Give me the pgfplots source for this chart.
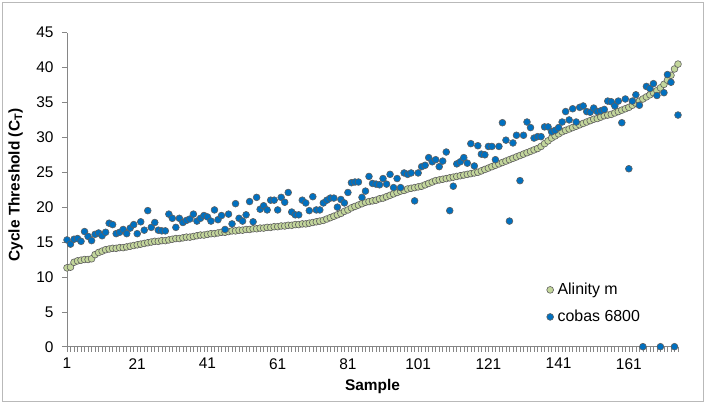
\documentclass[border=0pt]{standalone}
\usepackage{fontspec}
\setmainfont{Liberation Sans}
\usepackage{pgfplots}
\usepackage{pgfplotstable}
\pgfplotsset{compat=1.18}
\definecolor{alingreen}{RGB}{195,214,155}
\definecolor{cobasblue}{RGB}{0,112,192}
\definecolor{axisgray}{RGB}{134,134,134}
\definecolor{edgegray}{RGB}{95,95,95}

% sample, Alinity m, cobas 6800
\pgfplotstableread{
s a c
1 11.3 15.3
2 11.4 14.7
3 12.1 15.4
4 12.3 15.5
5 12.4 15.1
6 12.5 16.5
7 12.5 15.8
8 12.6 15.2
9 13.2 16.1
10 13.5 16.3
11 13.7 15.9
12 13.9 16.4
13 14.0 17.7
14 14.1 17.5
15 14.1 16.2
16 14.2 16.4
17 14.2 16.8
18 14.3 16.2
19 14.4 17.0
20 14.5 17.5
21 14.6 16.2
22 14.7 17.9
23 14.8 16.7
24 14.9 19.5
25 15.0 17.1
26 15.1 17.8
27 15.1 16.7
28 15.2 16.6
29 15.2 16.6
30 15.3 19.0
31 15.4 18.4
32 15.5 17.1
33 15.5 18.4
34 15.6 17.8
35 15.7 18.1
36 15.7 18.3
37 15.8 19.0
38 15.9 18.0
39 16.0 18.4
40 16.0 18.8
41 16.1 18.6
42 16.2 18.0
43 16.2 19.6
44 16.3 18.2
45 16.4 18.8
46 16.4 16.8
47 16.5 19.0
48 16.6 17.6
49 16.6 20.5
50 16.7 18.4
51 16.7 18.0
52 16.8 18.9
53 16.8 20.8
54 16.9 17.9
55 16.9 21.4
56 17.0 19.7
57 17.0 20.2
58 17.1 19.6
59 17.1 21.0
60 17.2 21.0
61 17.2 19.6
62 17.3 21.4
63 17.3 20.7
64 17.4 22.1
65 17.4 19.3
66 17.5 18.9
67 17.5 18.9
68 17.6 21.0
69 17.6 20.6
70 17.7 19.5
71 17.8 21.5
72 17.9 19.6
73 18.0 19.6
74 18.1 20.6
75 18.3 21.0
76 18.5 21.3
77 18.7 21.3
78 18.9 20.0
79 19.1 21.1
80 19.4 20.6
81 19.6 22.1
82 19.9 23.5
83 20.1 23.6
84 20.3 23.6
85 20.5 21.4
86 20.7 22.3
87 20.8 24.4
88 20.9 23.4
89 21.0 23.3
90 21.2 23.2
91 21.3 24.1
92 21.5 23.3
93 21.7 24.7
94 21.9 22.8
95 22.1 24.1
96 22.3 22.8
97 22.4 24.9
98 22.6 24.7
99 22.7 24.9
100 22.8 20.9
101 22.9 24.9
102 23.0 25.8
103 23.2 26.0
104 23.4 27.1
105 23.6 26.5
106 23.8 26.8
107 23.9 25.8
108 24.0 26.6
109 24.1 27.9
110 24.2 19.5
111 24.3 23.0
112 24.4 26.2
113 24.5 26.5
114 24.6 27.1
115 24.7 26.3
116 24.8 29.1
117 24.9 25.9
118 25.0 28.8
119 25.2 27.6
120 25.4 27.5
121 25.6 28.7
122 25.8 28.7
123 26.0 26.8
124 26.2 28.7
125 26.4 32.1
126 26.6 29.6
127 26.8 18.0
128 27.0 29.2
129 27.2 30.3
130 27.4 23.8
131 27.6 30.3
132 27.8 32.2
133 28.0 31.4
134 28.2 29.9
135 28.4 30.1
136 28.7 30.1
137 29.1 31.5
138 29.5 31.5
139 29.9 30.8
140 30.2 31.0
141 30.5 31.4
142 30.8 32.2
143 31.0 33.7
144 31.2 32.5
145 31.4 34.1
146 31.6 32.2
147 31.8 34.3
148 32.0 34.5
149 32.2 33.7
150 32.4 33.6
151 32.6 34.2
152 32.7 33.7
153 32.9 33.8
154 33.1 34.0
155 33.2 35.2
156 33.3 35.1
157 33.5 34.5
158 33.7 35.2
159 33.9 32.1
160 34.1 35.5
161 34.3 25.5
162 34.6 35.2
163 34.9 36.1
164 35.2 34.6
165 35.5 0
166 35.8 37.3
167 36.1 37.0
168 36.4 37.7
169 36.7 36.0
170 37.1 0
171 37.6 36.4
172 38.2 39.0
173 38.9 37.9
174 39.8 0
175 40.5 33.2
}\ctdata

\begin{document}
\begin{tikzpicture}
\path[use as bounding box] (-67bp,-59.3bp) rectangle (644bp,346.7bp);
\draw[gray!55, line width=0.8bp] (-65bp,-54.3bp) rectangle (636bp,344.7bp);
\begin{axis}[
    at={(0,0)}, anchor=south west,
    scale only axis,
    width=611bp, height=314bp,
    xmin=1, xmax=175,
    ymin=0, ymax=45,
    clip=false,
    axis lines=left,
    axis line style={axisgray, line width=0.8bp, -},
    xtick={1,21,...,161},
    minor xtick={1,...,175},
    ytick={0,5,...,45},
    tick align=outside,
    major tick length=5bp,
    minor tick length=5bp,
    tick style={axisgray, line width=0.6bp},
    /pgf/number format/assume math mode=true,
    ticklabel style={font=\fontsize{15.5}{18}\selectfont},
    yticklabel style={xshift=-5bp},
    xticklabel style={yshift=-3bp},
    xlabel={\bfseries Sample},
    ylabel={\bfseries Cycle Threshold (C\textsubscript{T})},
    label style={font=\fontsize{15.5}{18}\selectfont},
    xlabel style={at={(axis description cs:0.5,-0.127)}, anchor=center},
    ylabel style={at={(axis description cs:-0.084,0.515)}, anchor=center, rotate=0},
    legend style={draw=none, fill=none,
        at={(axis description cs:0.78,0.215)}, anchor=north west,
        font=\fontsize{16}{18}\selectfont, row sep=10bp,
        nodes={inner xsep=4bp}},
    legend cell align=left,
    legend image code/.code={\draw[mark repeat=2,mark phase=2,#1] plot coordinates {(0cm,0cm)(0.14cm,0cm)(0.28cm,0cm)};},
]
\addplot[only marks, mark=*, mark size=3.4bp,
    mark options={fill=alingreen, draw=edgegray, line width=0.6bp}]
    table[x=s, y=a] {\ctdata};
\addplot[only marks, mark=*, mark size=3.4bp,
    mark options={fill=cobasblue, draw=edgegray, line width=0.6bp}]
    table[x=s, y=c] {\ctdata};
\legend{Alinity m, cobas 6800}
\end{axis}
\end{tikzpicture}
\end{document}
